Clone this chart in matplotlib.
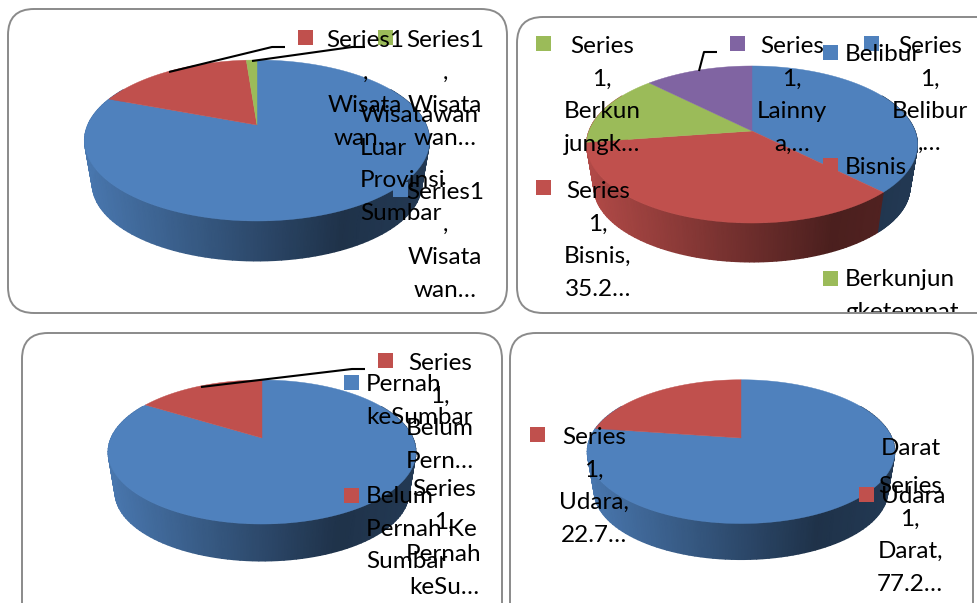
import matplotlib
matplotlib.use("Agg")
import matplotlib.pyplot as plt
import numpy as np
from matplotlib.colors import LinearSegmentedColormap
from matplotlib.patches import FancyBboxPatch, Rectangle

BLUE = "#4F81BD"
RED = "#C0504D"
GREEN = "#9BBB59"
PURPLE = "#8064A2"

# slice values, clockwise from 12 o'clock
wisatawan_values = [80.8, 18.0, 1.2]
wisatawan_colors = [BLUE, RED, GREEN]
tujuan_values = [37.5, 35.2, 14.8, 12.5]
tujuan_colors = [BLUE, RED, GREEN, PURPLE]
pernah_values = [83.8, 16.2]
pernah_colors = [BLUE, RED]
transport_values = [77.25, 22.75]
transport_colors = [BLUE, RED]

# label texts
seri1_wisata = ["Series1", ",", "Wisata", "wan…"]
seri_berkunjung = ["Series", "1,", "Berkun", "jungk…"]
seri_lainnya = ["Series", "1,", "Lainny", "a,…"]
seri_belibur = ["Series", "1,", "Belibur", ",…"]
seri_bisnis = ["Series", "1,", "Bisnis,", "35.2…"]
seri_belum = ["Series", "1,", "Belum", "Pern…"]
seri_pernah = ["Series", "1,", "Pernah", "keSu…"]
seri_udara = ["Series", "1,", "Udara,", "22.7…"]
seri_darat = ["Series", "1,", "Darat,", "77.2…"]
legend_luar = ["Wisatawan", "Luar", "Provinsi", "Sumbar"]
legend_pernah = ["Pernah", "keSumbar"]
legend_belum = ["Belum", "Pernah Ke", "Sumbar"]
legend_berkunjung = ["Berkunjun", "gketempat"]

FONT = "Lato"
FONT_SIZE = 17.5
LINE_H = 32.6

fig = plt.figure(figsize=(9.77, 6.03), dpi=100)
ax = fig.add_axes([0, 0, 1, 1])
ax.axis("off")


def box(x0, y0, x1, y1):
    ax.add_patch(FancyBboxPatch((x0 + 26, y0 + 26), x1 - x0 - 52, y1 - y0 - 52,
                                boxstyle="round,pad=26,rounding_size=26",
                                fc="white", ec="#8a8a8a", lw=1.4, zorder=1))


def pie3d(values, colors, cx, cy, a, b, k, depth, shrink=0.955):
    edges = np.cumsum([0] + list(values)) / sum(values) * 2 * np.pi
    half_w = a / np.sqrt(1 - k ** 2)
    drop = depth + (1 - shrink) * b / (1 - k)
    front_lo, front_hi = np.radians(60), np.radians(300)

    # only slices that start well before the left tangent get a wall
    wall_edges = [e for e in edges if e < np.radians(255)]
    wall_edges.append(front_hi)

    for i in range(len(wall_edges) - 1):
        lo = max(wall_edges[i], front_lo)
        hi = wall_edges[i + 1]
        if hi <= lo:
            continue
        t = np.linspace(lo, hi, 120)
        u = np.sin(t)
        v = np.cos(t)
        xs = a * u / (1 + k * v)
        ys = b * v / (1 + k * v)
        shade = np.interp((xs + half_w) / (2 * half_w), [0, 0.75, 1], [0.92, 0.39, 0.44])
        cmap = LinearSegmentedColormap.from_list("wall", ["black", colors[i]])
        ax.pcolormesh(np.array([cx + xs, cx + shrink * xs]),
                      np.array([cy - ys, cy - shrink * ys + drop]),
                      np.array([shade, shade]),
                      shading="gouraud", cmap=cmap, vmin=0, vmax=1, zorder=2)

    for i, color in enumerate(colors):
        t = np.linspace(edges[i], edges[i + 1], 200)
        u = np.sin(t)
        v = np.cos(t)
        xs = cx + a * u / (1 + k * v)
        ys = cy - b * v / (1 + k * v)
        ax.fill(np.r_[cx, xs], np.r_[cy, ys], color=color, lw=0.3, zorder=3)


def lines(x, y, rows, ha="center", clip=None):
    for i, row in enumerate(rows):
        txt = ax.text(x, y + i * LINE_H, row, ha=ha, va="baseline", color="black",
                      family=FONT, fontsize=FONT_SIZE, zorder=6)
        if clip is not None:
            txt.set_clip_path(clip)
            txt.set_clip_on(True)


def swatch(x, y, color):
    ax.add_patch(Rectangle((x, y), 15, 15, fc=color, ec="none", zorder=5))


def leader(xs, ys):
    ax.plot(xs, ys, color="black", lw=1.5, zorder=4, solid_capstyle="butt")


box(8, 9, 507, 313)
box(517, 17, 1010, 313)
box(22, 333, 502, 640)
box(510, 333, 973, 640)

pie3d(wisatawan_values, wisatawan_colors, 257, 125, 169.3, 77.5, 0.1926, 40)
pie3d(tujuan_values, tujuan_colors, 752, 131, 163, 76.2, 0.172, 39)
pie3d(pernah_values, pernah_colors, 262, 438, 151, 69.3, 0.1945, 37)
pie3d(transport_values, transport_colors, 741, 438, 151, 69.3, 0.19, 36)

leader([169, 272, 285], [72, 47, 47])
leader([252, 352, 365], [61, 47, 47])
leader([699, 704, 717], [71, 52, 52])
leader([201, 352, 365], [387, 369, 369])

ax.set_xlim(0, 977)
ax.set_ylim(603, 0)

# top left
swatch(298, 30, RED)
swatch(378, 30, GREEN)
swatch(393, 182, BLUE)
lines(365, 47, seri1_wisata)
lines(445, 47, seri1_wisata)
lines(445, 199, seri1_wisata)
lines(360, 122, legend_luar, ha="left")

# top right
swatch(536, 36, GREEN)
swatch(730, 36, PURPLE)
swatch(864, 36, BLUE)
swatch(823, 45, BLUE)
swatch(823, 158, RED)
swatch(823, 271, GREEN)
swatch(536, 180, RED)
lines(602, 53, seri_berkunjung)
lines(792, 53, seri_lainnya)
lines(930, 53, seri_belibur)
lines(598, 198, seri_bisnis)
lines(845, 61, ["Belibur"], ha="left")
lines(845, 174, ["Bisnis"], ha="left")
clip_low = Rectangle((517, 17), 460, 295, transform=ax.transData)
lines(845, 286, legend_berkunjung, ha="left", clip=clip_low)

# bottom left
swatch(378, 353, RED)
swatch(344, 375, BLUE)
swatch(344, 488, RED)
lines(440, 370, seri_belum)
lines(444, 496, seri_pernah)
lines(366, 391, legend_pernah, ha="left")
lines(366, 503, legend_belum, ha="left")

# bottom right
swatch(530, 427, RED)
swatch(859, 487, RED)
lines(594, 444, seri_udara)
lines(910, 493, seri_darat)
lines(881, 455, ["Darat"], ha="left")
lines(881, 503, ["Udara"], ha="left")

fig.savefig("out.png", dpi=100, facecolor="white")
